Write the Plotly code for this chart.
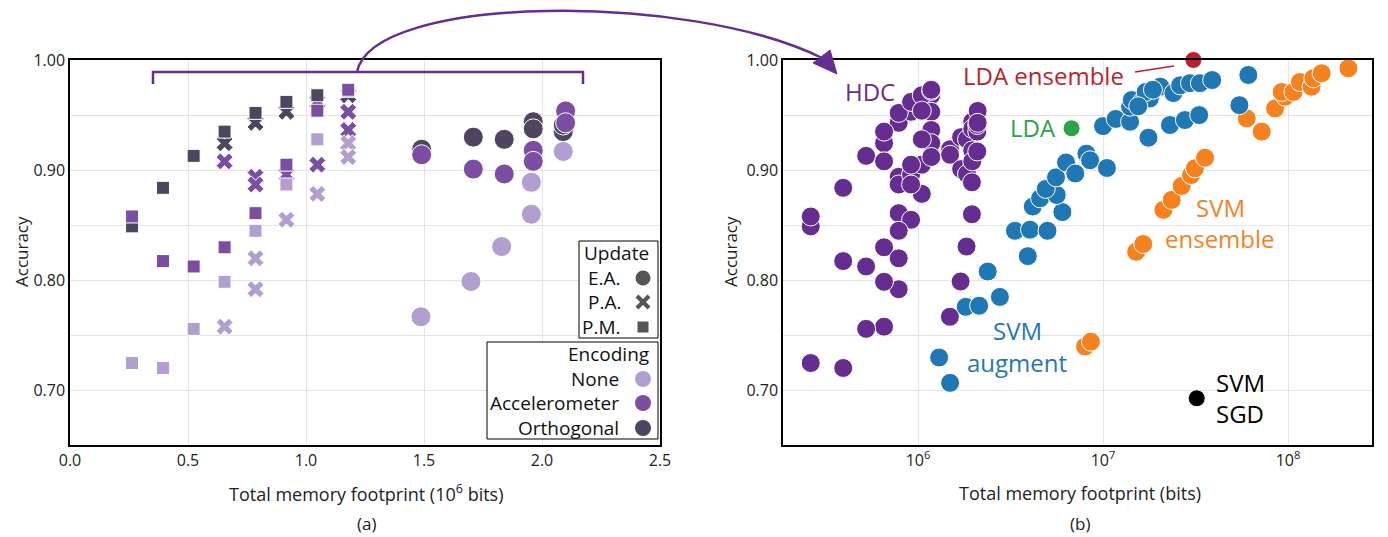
import plotly.graph_objects as go

# page is 1388x537; the html body has an 8 px margin, so the figure is 8 px smaller
OFF = 8
W, H = 1388 - OFF, 537 - OFF

# ---------------- Panel (a) data: memory footprint (10^6 bits) vs accuracy ----------------
# Orthogonal encoding
orth_pa_x = [0.655, 0.786, 0.917, 1.048, 1.179]
orth_pa_y = [0.9245, 0.943, 0.953, 0.962, 0.968]
orth_pm_x = [0.263, 0.394, 0.524, 0.655, 0.786, 0.917, 1.048, 1.179]
orth_pm_y = [0.849, 0.884, 0.913, 0.935, 0.952, 0.962, 0.968, 0.972]
orth_ea_x = [1.490, 1.709, 1.840, 1.963, 1.963, 2.090, 2.090]
orth_ea_y = [0.919, 0.930, 0.928, 0.944, 0.9375, 0.935, 0.941]
# Accelerometer encoding
acc_pa_x = [0.655, 0.786, 0.786, 0.917, 1.048, 1.179, 1.179]
acc_pa_y = [0.908, 0.894, 0.887, 0.896, 0.905, 0.953, 0.9365]
acc_pm_x = [0.263, 0.394, 0.524, 0.655, 0.786, 0.917, 1.048, 1.179]
acc_pm_y = [0.858, 0.8175, 0.8126, 0.830, 0.861, 0.905, 0.954, 0.973]
acc_ea_x = [1.490, 1.709, 1.840, 1.963, 1.963, 2.100, 2.100]
acc_ea_y = [0.914, 0.901, 0.8966, 0.918, 0.908, 0.9538, 0.943]
# No encoding
none_pa_x = [0.655, 0.786, 0.786, 0.917, 1.048, 1.179, 1.179]
none_pa_y = [0.758, 0.820, 0.792, 0.855, 0.8785, 0.9245, 0.912]
none_pm_x = [0.263, 0.394, 0.524, 0.655, 0.786, 0.917, 1.048]
none_pm_y = [0.725, 0.7205, 0.756, 0.7987, 0.845, 0.887, 0.928]
none_ea_x = [1.487, 1.699, 1.829, 1.955, 1.955, 2.090]
none_ea_y = [0.767, 0.799, 0.8307, 0.889, 0.860, 0.917]

# ---------------- Panel (b) data: memory footprint (bits) vs accuracy ----------------
svm_aug_x = [1.30e6, 1.49e6, 1.81e6, 2.14e6, 2.77e6, 2.38e6, 3.92e6, 3.34e6, 4.03e6, 5.01e6,
             6.03e6, 4.17e6, 4.57e6, 5.62e6, 4.90e6, 5.57e6, 6.31e6, 7.08e6, 8.13e6, 8.51e6,
             1.05e7, 1.00e7, 1.17e7, 1.40e7, 1.40e7, 1.43e7, 1.62e7, 1.79e7, 1.70e7, 2.04e7,
             2.40e7, 2.61e7, 2.95e7, 3.34e7, 3.89e7, 1.76e7, 2.30e7, 2.77e7, 3.31e7, 6.10e7,
             5.46e7, 1.86e7, 1.55e7]
svm_aug_y = [0.730, 0.707, 0.776, 0.777, 0.785, 0.808, 0.822, 0.845, 0.846, 0.845,
             0.862, 0.867, 0.8745, 0.8775, 0.883, 0.8935, 0.907, 0.897, 0.915, 0.909,
             0.902, 0.940, 0.9465, 0.944, 0.9576, 0.9637, 0.962, 0.965, 0.971, 0.9758,
             0.970, 0.977, 0.979, 0.979, 0.9818, 0.9295, 0.941, 0.9455, 0.950, 0.9864,
             0.959, 0.973, 0.958]
svm_ens_x = [8.0e6, 8.6e6, 1.51e7, 1.65e7, 2.12e7, 2.35e7, 2.66e7, 2.99e7, 3.14e7, 3.56e7,
             5.98e7, 8.51e7, 7.21e7, 9.64e7, 9.25e7, 1.07e8, 1.16e8, 1.34e8, 1.37e8, 1.52e8,
             2.12e8]
svm_ens_y = [0.740, 0.7444, 0.826, 0.833, 0.864, 0.873, 0.8857, 0.8956, 0.9017, 0.9113,
             0.947, 0.956, 0.935, 0.9667, 0.971, 0.971, 0.980, 0.9758, 0.9834, 0.988,
             0.9925]
lda_x = [6.76e6]
lda_y = [0.938]
lda_ens_x = [3.08e7]
lda_ens_y = [1.000]
svm_sgd_x = [3.21e7]
svm_sgd_y = [0.693]

C_NONE = "#b39ed0"
C_ACC = "#7b4ea2"
C_ORTH = "#4e455e"
C_HDC = "#662d91"
C_BLUE = "#1f77b4"
C_ORANGE = "#f5821f"
C_GREEN = "#2ea14b"
C_RED = "#be1e2d"
FONT = "Open Sans"

fig = go.Figure()

def add(x, y, color, symbol, size, xa="x", ya="y"):
    fig.add_trace(go.Scatter(
        x=x, y=y, mode="markers", xaxis=xa, yaxis=ya, cliponaxis=False,
        marker=dict(color=color, symbol=symbol, size=size,
                    line=dict(color="white", width=1)),
        showlegend=False, hoverinfo="x+y"))

SZ = {"circle": 20, "x": 15, "square": 13}
for col, sets in [(C_ORTH, [(orth_pa_x, orth_pa_y, "x"), (orth_pm_x, orth_pm_y, "square"), (orth_ea_x, orth_ea_y, "circle")]),
                  (C_ACC, [(acc_pa_x, acc_pa_y, "x"), (acc_pm_x, acc_pm_y, "square"), (acc_ea_x, acc_ea_y, "circle")]),
                  (C_NONE, [(none_pa_x, none_pa_y, "x"), (none_pm_x, none_pm_y, "square"), (none_ea_x, none_ea_y, "circle")])]:
    for xs, ys, sym in sets:
        add(xs, ys, col, sym, SZ[sym])

# Panel (b): HDC = every configuration of panel (a), in bits
hdc_x, hdc_y = [], []
for xs, ys in [(orth_pa_x, orth_pa_y), (orth_pm_x, orth_pm_y), (orth_ea_x, orth_ea_y),
               (acc_pa_x, acc_pa_y), (acc_pm_x, acc_pm_y), (acc_ea_x, acc_ea_y),
               (none_pa_x, none_pa_y), (none_pm_x, none_pm_y), (none_ea_x, none_ea_y)]:
    hdc_x += [v * 1e6 for v in xs]
    hdc_y += list(ys)
add(hdc_x, hdc_y, C_HDC, "circle", 19, "x2", "y2")
add(svm_ens_x, svm_ens_y, C_ORANGE, "circle", 19, "x2", "y2")
add(svm_aug_x, svm_aug_y, C_BLUE, "circle", 19, "x2", "y2")
add(lda_x, lda_y, C_GREEN, "circle", 17, "x2", "y2")
add(lda_ens_x, lda_ens_y, C_RED, "circle", 17, "x2", "y2")
add(svm_sgd_x, svm_sgd_y, "black", "circle", 17, "x2", "y2")

# page pixel -> paper fraction
def px(x): return (x - OFF) / W
def py(y): return 1 - (y - OFF) / H

axis_common = dict(showline=True, linecolor="black", linewidth=1.5, mirror=True,
                   gridcolor="#e4e4e4", gridwidth=1, ticks="", zeroline=False, automargin=False,
                   tickfont=dict(family=FONT, size=16, color="#222"))

yax = dict(axis_common, range=[0.6506, 1.0], tickvals=[0.7, 0.8, 0.9, 1.0], tickformat=".2f",
           minor=dict(dtick=0.05, tick0=0, showgrid=True, gridcolor="#e4e4e4"))

fig.update_layout(
    width=W, height=H, margin=dict(l=0, r=0, t=0, b=0, autoexpand=False),
    paper_bgcolor="white", plot_bgcolor="white",
    xaxis=dict(axis_common, domain=[px(70), px(660)], range=[0, 2.5], dtick=0.5, tickformat=".1f"),
    yaxis=dict(yax, domain=[py(445), py(60)]),
    xaxis2=dict(axis_common, domain=[px(783), px(1372)], type="log", range=[5.27, 8.454],
                tickvals=[1e6, 1e7, 1e8], ticktext=["10<sup>6</sup>", "10<sup>7</sup>", "10<sup>8</sup>"],
                anchor="y2"),
    yaxis2=dict(yax, domain=[py(445), py(60)], anchor="x2"),
)

ann = []
def text(x, y, t, size=18, color="#222", xanchor="center", angle=0):
    ann.append(dict(x=px(x), y=py(y), xref="paper", yref="paper", text=t, showarrow=False,
                    xanchor=xanchor, yanchor="middle", textangle=angle,
                    font=dict(family=FONT, size=size, color=color)))

# axis titles
text(366, 493, "Total memory footprint (10<sup>6</sup> bits)", 18)
text(1080, 493, "Total memory footprint (bits)", 18)
text(22, 252, "Accuracy", 17, angle=-90)
text(731, 252, "Accuracy", 17, angle=-90)
text(366, 523, "(a)", size=17)
text(1080, 523, "(b)", size=17)

# panel (b) labels
LS = 24
text(870, 92, "HDC", LS, C_HDC)
text(1126, 75, "LDA ensemble", LS, C_RED, "right")
text(1058, 128, "LDA", LS, C_GREEN, "right")
text(1220, 207, "SVM", LS, C_ORANGE)
text(1220, 239, "ensemble", LS, C_ORANGE)
text(1017, 330, "SVM", LS, C_BLUE)
text(1017, 362, "augment", LS, C_BLUE)
text(1214, 382, "SVM", LS, "black", "left")
text(1214, 413, "SGD", LS, "black", "left")

# legends (panel a)
LG = 19
text(651, 253, "Update", LG, "#111", "right")
text(623, 278, "E.A.", LG, "#111", "right")
text(623, 302, "P.A.", LG, "#111", "right")
text(623, 327, "P.M.", LG, "#111", "right")
text(651, 354, "Encoding", LG, "#111", "right")
text(621, 379, "None", LG, "#111", "right")
text(621, 403, "Accelerometer", LG, "#111", "right")
text(621, 428, "Orthogonal", LG, "#111", "right")
fig.update_layout(annotations=ann)

shapes = []
def rect(x0, y0, x1, y1, **kw):
    shapes.append(dict(type="rect", xref="paper", yref="paper", x0=px(x0), x1=px(x1),
                       y0=py(y1), y1=py(y0), **kw))
def circ(cx, cy, r, color):
    shapes.append(dict(type="circle", xref="paper", yref="paper", x0=px(cx - r), x1=px(cx + r),
                       y0=py(cy + r), y1=py(cy - r), fillcolor=color, line=dict(width=0)))
def path(pts, close=False, **kw):
    d = "M" + " L".join(f"{px(a):.5f},{py(b):.5f}" for a, b in pts) + (" Z" if close else "")
    shapes.append(dict(type="path", xref="paper", yref="paper", path=d, **kw))

rect(579, 241, 658, 338, line=dict(color="black", width=1), fillcolor="white", layer="above")
rect(487, 342, 658, 439, line=dict(color="black", width=1), fillcolor="white", layer="above")
circ(643, 278, 7.5, "#555555")
path([(637, 296), (649, 308)], line=dict(color="#555555", width=4))
path([(637, 308), (649, 296)], line=dict(color="#555555", width=4))
rect(637.5, 321.5, 648.5, 332.5, line=dict(width=0), fillcolor="#555555")
circ(643, 379, 8, C_NONE)
circ(643, 403, 8, C_ACC)
circ(643, 428, 8, C_ORTH)

# bracket and curved arrow
path([(153, 84), (153, 72), (583, 72), (583, 84)], line=dict(color=C_HDC, width=2.5))
p0, p1, p2, p3 = (357, 72), (372, -6), (690, -8), (822, 58)
d = (f"M{px(p0[0]):.5f},{py(p0[1]):.5f} C{px(p1[0]):.5f},{py(p1[1]):.5f} "
     f"{px(p2[0]):.5f},{py(p2[1]):.5f} {px(p3[0]):.5f},{py(p3[1]):.5f}")
shapes.append(dict(type="path", xref="paper", yref="paper", path=d, line=dict(color=C_HDC, width=2.5)))
path([(837, 74), (813, 63), (830, 50)], close=True, fillcolor=C_HDC, line=dict(color=C_HDC, width=1))
# LDA ensemble leader line
path([(1135, 72), (1174, 66)], line=dict(color=C_RED, width=1.5))

fig.update_layout(shapes=shapes)
fig.write_html("out.html")
